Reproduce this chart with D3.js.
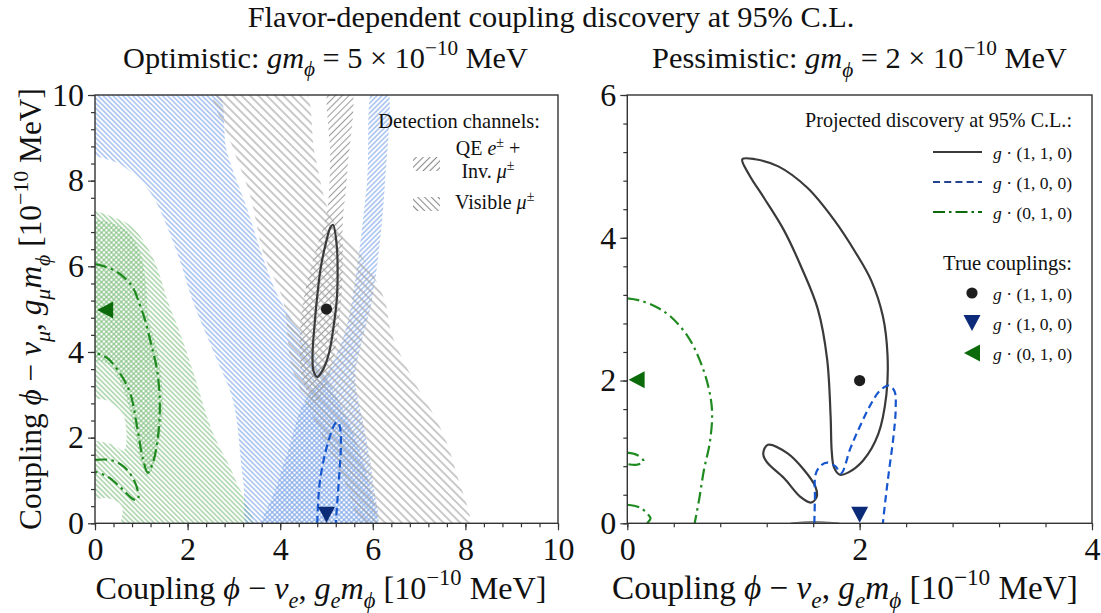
<!DOCTYPE html>
<html><head><meta charset="utf-8">
<script src="https://cdn.jsdelivr.net/npm/d3@7"></script>
<style>body{margin:0;background:#fff}</style>
</head><body>
<script>
// ---------------- DATA (data coordinates, units of 1e-10 MeV) ----------------
const leftXTicks = [0,2,4,6,8,10];
const leftYTicks = [0,2,4,6,8,10];
const rightXTicks = [0,2,4];
const rightYTicks = [0,2,4,6];

// Left (optimistic) hatched regions
const leftGreenVisible = [[-0.3,7.25],[0.45,7.12],[0.82,6.9],[1.25,6.2],[1.6,5.1],[1.85,4.4],[2.1,3.6],[2.55,2.1],[3.0,1.1],[3.4,-0.3],[0.6,-0.3],[0.58,0.4],[0.3,0.58],[-0.3,0.6],[-0.3,1.87],[0.35,1.85],[0.62,1.7],[0.62,2.5],[0.3,2.85],[-0.3,3.05]];
const leftGreenQE = [[-0.3,7.0],[0.6,6.9],[0.95,6.4],[1.1,5.6],[1.15,4.8],[1.35,4.0],[1.45,3.2],[1.45,2.4],[1.32,1.6],[1.15,1.1],[1.0,1.4],[0.85,2.2],[0.62,3.1],[0.3,3.7],[-0.3,3.95]];
const leftBlueVisible = [[-0.3,10.3],[2.55,10.3],[2.85,8.67],[3.28,7.36],[3.63,6.19],[4.0,5.2],[4.6,4.2],[5.0,3.4],[5.5,2.3],[5.9,1.0],[6.02,-0.3],[3.4,-0.3],[3.2,1.0],[2.98,2.87],[2.6,3.9],[2.12,5.16],[1.77,6.33],[1.19,7.73],[0.6,8.35],[-0.3,8.8]];
const leftBlueQE = [[6.03,10.3],[6.28,10.3],[6.26,7.9],[5.98,5.2],[5.75,4.2],[5.62,3.4],[5.8,2.3],[6.0,1.0],[6.02,-0.3],[3.6,-0.3],[3.9,0.8],[4.2,1.8],[4.5,2.8],[5.0,3.5],[5.35,4.3],[5.55,5.2],[5.87,7.9]];
const leftGrayVisible = [[2.55,10.3],[4.43,10.3],[4.75,8.6],[5.08,7.2],[5.5,6.6],[5.9,6.0],[6.26,5.2],[6.4,4.44],[6.9,3.3],[7.45,2.25],[7.8,1.2],[8.05,-0.3],[6.0,-0.3],[5.3,1.2],[4.7,2.5],[4.25,3.65],[4.06,5.2],[3.63,6.33],[3.35,7.66],[2.98,8.76]];
const leftGrayQE = [[5.08,10.3],[5.5,10.3],[5.45,8.2],[5.35,7.0],[5.35,6.0],[5.3,5.0],[5.18,4.0],[4.98,3.2],[4.75,2.85],[4.5,3.3],[4.42,4.2],[4.5,5.2],[4.75,6.3],[5.0,7.2],[5.08,8.5]];

// Left projected-discovery contours
const leftContour110 = [[5.14,6.97],[5.22,6.5],[5.24,5.8],[5.22,5.2],[5.14,4.5],[5.06,4.0],[4.93,3.6],[4.80,3.42],[4.72,3.55],[4.70,4.0],[4.74,4.6],[4.79,5.2],[4.88,6.0],[5.0,6.6],[5.08,6.9]];
const leftContour100 = [[4.80,0],[4.82,0.5],[4.86,1.0],[4.97,1.63],[5.08,2.05],[5.17,2.30],[5.23,2.37],[5.29,2.25],[5.31,1.78],[5.28,1.2],[5.24,0.6],[5.20,0]];
const leftContour010a = [[0,6.05],[0.25,5.98],[0.47,5.87],[0.67,5.70],[0.82,5.50],[0.97,5.10],[1.08,4.75],[1.22,4.15],[1.34,3.58],[1.40,2.80],[1.36,2.02],[1.25,1.41],[1.14,1.18],[1.04,1.48],[0.91,2.25],[0.76,3.04],[0.54,3.50],[0.26,3.86],[0,3.98]];
const leftContour010b = [[0,1.48],[0.32,1.48],[0.55,1.38],[0.69,1.25],[0.82,1.05],[0.90,0.85],[0.94,0.62],[0.90,0.54],[0.80,0.58],[0.66,0.72],[0.54,0.85],[0.26,1.10],[0,1.20]];

// Right (pessimistic) contours
const rightContour110 = [[0.99,5.10],[1.10,5.10],[1.30,5.00],[1.55,4.70],[1.78,4.25],[1.97,3.78],[2.10,3.40],[2.20,2.90],[2.24,2.35],[2.23,1.80],[2.16,1.25],[2.03,0.88],[1.90,0.71],[1.83,0.68],[1.78,0.78],[1.76,1.00],[1.75,1.50],[1.72,2.30],[1.64,3.00],[1.50,3.58],[1.35,4.10],[1.18,4.55],[1.05,4.88]];
const rightLoop110 = [[1.21,1.10],[1.38,0.98],[1.52,0.75],[1.62,0.51],[1.63,0.37],[1.58,0.29],[1.49,0.37],[1.35,0.63],[1.20,0.86],[1.17,0.98]];
const rightLens110 = [[1.40,0.0],[1.6,0.025],[1.83,0.0],[1.6,-0.01]];
const rightContour100 = [[1.61,0],[1.615,0.35],[1.62,0.68],[1.66,0.80],[1.72,0.85],[1.79,0.80],[1.84,0.70],[1.92,1.05],[2.0,1.35],[2.09,1.65],[2.17,1.85],[2.25,1.93],[2.30,1.85],[2.31,1.60],[2.29,1.20],[2.25,0.70],[2.22,0.30],[2.20,0]];
const rightContour010a = [[0,3.15],[0.11,3.12],[0.25,3.03],[0.37,2.90],[0.52,2.62],[0.62,2.30],[0.70,1.90],[0.73,1.55],[0.71,1.13],[0.66,0.75],[0.62,0.35],[0.58,0]];
const rightContour010b = [[0,0.99],[0.08,0.96],[0.14,0.87],[0.08,0.82],[0,0.83]];
const rightContour010c = [[0,0.26],[0.11,0.22],[0.18,0.12],[0.20,0.07],[0.17,0]];

// True couplings
const leftTrue = [{k:"110",x:5,y:5},{k:"100",x:5,y:0.2},{k:"010",x:0.22,y:4.98}];
const rightTrue = [{k:"110",x:2,y:2},{k:"100",x:2,y:0.12},{k:"010",x:0.08,y:2.01}];

const legendLines = ["(1, 1, 0)","(1, 0, 0)","(0, 1, 0)"];

// ---------------- DRAWING ----------------
const FONT = "'Liberation Serif','DejaVu Serif',serif";
const W=1101,H=613;
const svg = d3.select("body").append("svg").attr("width",W).attr("height",H);
svg.append("rect").attr("width",W).attr("height",H).attr("fill","#fff");
const defs = svg.append("defs");

const COL = {
  greenH:"#7cbd7c", blueH:"#76a0e6", grayH:"#9e9e9e",
  line110:"#3a3a3a", line100:"#1556cf", line010:"#1f8a1f",
  leg100:"#23428f", leg010:"#0d6a0d",
  m110:"#1e1e1e", m100:"#0b2a78", m010:"#0b6b0b"
};

function hatch(id,color,sp,dir,w){
  const p = defs.append("pattern").attr("id",id).attr("patternUnits","userSpaceOnUse")
    .attr("width",sp).attr("height",sp).attr("patternTransform",`rotate(${dir==='/'?45:-45})`);
  p.append("line").attr("x1",sp/2).attr("y1",-1).attr("x2",sp/2).attr("y2",sp+1)
    .attr("stroke",color).attr("stroke-width",w);
}
hatch("gV",COL.greenH,3.5,"\\",1.0);
hatch("gQ",COL.greenH,3.5,"/",1.0);
hatch("bV",COL.blueH,3.5,"\\",1.0);
hatch("bQ",COL.blueH,3.5,"/",1.0);
hatch("kV",COL.grayH,5.9,"\\",1.1);
hatch("kQ",COL.grayH,4.8,"/",1.1);
hatch("legV","#8a8a8a",4.8,"\\",1.1);
hatch("legQ","#8a8a8a",4.8,"/",1.1);

function rich(parent, segs, o){
  const build = (sz)=>{
    const t = parent.append("text").attr("x",o.x).attr("y",o.y).attr("font-size",sz)
      .attr("text-anchor",o.anchor||"start").attr("font-family",FONT).attr("fill","#111");
    if(o.rotate!=null) t.attr("transform",`rotate(${o.rotate},${o.x},${o.y})`);
    let cur=0;
    segs.forEach(([s,st=""])=>{
      const pos = st.includes("sub")?0.28:(st.includes("sup")?-0.42:0);
      const fs = pos!==0?0.7:1;
      const ts = t.append("tspan").text(s).attr("font-size",sz*fs).attr("dy",(pos-cur)*sz);
      if(st.includes("i")) ts.attr("font-style","italic");
      cur=pos;
    });
    return t;
  };
  let t = build(o.size);
  if(o.width){ const w=t.node().getBBox().width; t.remove(); t=build(o.size*o.width/w); }
  return t;
}

function panel(box, xd, yd, xt, yt){
  const x = d3.scaleLinear().domain(xd).range([box.x0,box.x1]);
  const y = d3.scaleLinear().domain(yd).range([box.y0,box.y1]);
  const id = "clip"+Math.round(box.x0);
  defs.append("clipPath").attr("id",id).append("rect")
    .attr("x",box.x0).attr("y",box.y1).attr("width",box.x1-box.x0).attr("height",box.y0-box.y1);
  const g = svg.append("g");
  const inner = g.append("g").attr("clip-path",`url(#${id})`);
  const styleAx = (a)=>{ a.select(".domain").remove();
    a.selectAll(".tick line").attr("stroke","#333").attr("stroke-width",1.2);
    a.selectAll("text").attr("font-family",FONT).attr("font-size",32).attr("fill","#111"); };
  const minorX = d3.range(xd[0],xd[1]+1e-9,0.4), minorY = d3.range(yd[0],yd[1]+1e-9,0.4);
  g.append("g").attr("transform",`translate(0,${box.y0})`).call(d3.axisBottom(x).tickValues(minorX).tickSize(4).tickFormat("")).call(styleAx);
  g.append("g").attr("transform",`translate(${box.x0},0)`).call(d3.axisLeft(y).tickValues(minorY).tickSize(4).tickFormat("")).call(styleAx);
  g.append("g").attr("transform",`translate(0,${box.y0})`).call(d3.axisBottom(x).tickValues(xt).tickSize(7).tickPadding(7).tickFormat(d3.format("d"))).call(styleAx);
  g.append("g").attr("transform",`translate(${box.x0},0)`).call(d3.axisLeft(y).tickValues(yt).tickSize(7).tickPadding(4).tickFormat(d3.format("d"))).call(styleAx);
  return {x,y,g,inner};
}

const L = panel({x0:95,x1:558,y0:523.3,y1:95},[0,10],[0,10],leftXTicks,leftYTicks);
const R = panel({x0:627.3,x1:1092,y0:523.3,y1:95},[0,4],[0,6],rightXTicks,rightYTicks);

function region(P, pts, fill){
  const gen = d3.line().x(d=>P.x(d[0])).y(d=>P.y(d[1])).curve(d3.curveCatmullRomClosed.alpha(0.5));
  P.inner.append("path").attr("d",gen(pts)).attr("fill",`url(#${fill})`).attr("stroke","none");
}
region(L,leftGreenVisible,"gV");
region(L,leftGreenQE,"gQ");
region(L,leftBlueVisible,"bV");
region(L,leftBlueQE,"bQ");
region(L,leftGrayVisible,"kV");
region(L,leftGrayQE,"kQ");

function curve(P, pts, color, dash, closed, fill, sw){
  const gen = d3.line().x(d=>P.x(d[0])).y(d=>P.y(d[1]))
    .curve(closed?d3.curveCatmullRomClosed.alpha(0.5):d3.curveCatmullRom.alpha(0.5));
  P.inner.append("path").attr("d",gen(pts)).attr("fill",fill||"none").attr("stroke",color)
    .attr("stroke-width",sw||2.2).attr("stroke-dasharray",dash||null).attr("stroke-linejoin","round");
}
const DASH="7.5,4.5", DASHDOT="12,4.5,2.5,4.5";
curve(L,leftContour110,COL.line110,null,true);
curve(L,leftContour100,COL.line100,DASH,false);
curve(L,leftContour010a,COL.line010,DASHDOT,false);
curve(L,leftContour010b,COL.line010,DASHDOT,false);

curve(R,rightContour110,COL.line110,null,true);
curve(R,rightLoop110,COL.line110,null,true);
curve(R,rightLens110,"#777",null,true,"#999",1.2);
curve(R,rightContour100,COL.line100,DASH,false);
curve(R,rightContour010a,COL.line010,DASHDOT,false);
curve(R,rightContour010b,COL.line010,DASHDOT,false);
curve(R,rightContour010c,COL.line010,DASHDOT,false);

// frames
[[95,558],[627.3,1092]].forEach(([a,b])=>{
  svg.append("rect").attr("x",a).attr("y",95).attr("width",b-a).attr("height",523.3-95)
    .attr("fill","none").attr("stroke","#333").attr("stroke-width",1.4);
});

function marker(sel, k){
  if(k==="110") return sel.append("circle").attr("r",5.6).attr("fill",COL.m110);
  if(k==="100") return sel.append("path").attr("d","M-8.5,-8L8.5,-8L0,8Z").attr("fill",COL.m100);
  return sel.append("path").attr("d","M-8,0L8,-8.5L8,8.5Z").attr("fill",COL.m010);
}
[[L,leftTrue],[R,rightTrue]].forEach(([P,arr])=>{
  arr.forEach(d=>{ const m = svg.append("g").attr("transform",`translate(${P.x(d.x)},${P.y(d.y)})`); marker(m,d.k); });
});

// ---------------- TEXT ----------------
rich(svg,[["Flavor-dependent coupling discovery at 95% C.L."]],{x:551,y:27,size:28,anchor:"middle",width:607});
rich(svg,[["Optimistic: "],["g","i"],["m","i"],["ϕ","isub"],[" = 5 × 10"],["−10","sup"],[" MeV"]],{x:325.5,y:68,size:29,anchor:"middle",width:405});
rich(svg,[["Pessimistic: "],["g","i"],["m","i"],["ϕ","isub"],[" = 2 × 10"],["−10","sup"],[" MeV"]],{x:859.5,y:68,size:29,anchor:"middle",width:415});

const xlab = [["Coupling "],["ϕ","i"],[" − "],["ν","i"],["e","isub"],[", "],["g","i"],["e","isub"],["m","i"],["ϕ","isub"],[" [10"],["−10","sup"],[" MeV]"]];
rich(svg,xlab,{x:321,y:599,size:30,anchor:"middle",width:451});
rich(svg,xlab,{x:845,y:599,size:30,anchor:"middle",width:466});
const ylab = [["Coupling "],["ϕ","i"],[" − "],["ν","i"],["μ","isub"],[", "],["g","i"],["μ","isub"],["m","i"],["ϕ","isub"],[" [10"],["−10","sup"],[" MeV]"]];
rich(svg,ylab,{x:41,y:309,size:30,anchor:"middle",width:442,rotate:-90});

// left legend
rich(svg,[["Detection channels:"]],{x:540,y:128,size:20,anchor:"end",width:162});
svg.append("rect").attr("x",413).attr("y",157).attr("width",27).attr("height",14).attr("fill","url(#legQ)");
svg.append("rect").attr("x",413).attr("y",197).attr("width",27).attr("height",14).attr("fill","url(#legV)");
rich(svg,[["QE "],["e","i"],["±","sup"],[" +"]],{x:488,y:155,size:20,anchor:"middle"});
rich(svg,[["Inv. "],["μ","i"],["±","sup"]],{x:488,y:178,size:20,anchor:"middle"});
rich(svg,[["Visible "],["μ","i"],["±","sup"]],{x:455,y:209,size:20,anchor:"start"});

// right legend
rich(svg,[["Projected discovery at 95% C.L.:"]],{x:1072,y:127,size:20,anchor:"end",width:267});
const legCols=[COL.line110,COL.leg100,COL.leg010], legDash=[null,"7,4.2","12,4,2.5,4"];
legendLines.forEach((s,i)=>{
  const yy = 152+30*i;
  svg.append("line").attr("x1",933).attr("x2",982).attr("y1",yy).attr("y2",yy)
    .attr("stroke",legCols[i]).attr("stroke-width",2.2).attr("stroke-dasharray",legDash[i]);
  rich(svg,[["g","i"],[" · "+s]],{x:1072,y:yy+7,size:21,anchor:"end",width:79});
});
rich(svg,[["True couplings:"]],{x:1072,y:270,size:20,anchor:"end",width:129});
["110","100","010"].forEach((k,i)=>{
  const yy = 293+30*i;
  const m = svg.append("g").attr("transform",`translate(972,${yy})`); marker(m,k);
  rich(svg,[["g","i"],[" · "+legendLines[i]]],{x:1072,y:yy+7,size:21,anchor:"end",width:79});
});
</script>
</body></html>
